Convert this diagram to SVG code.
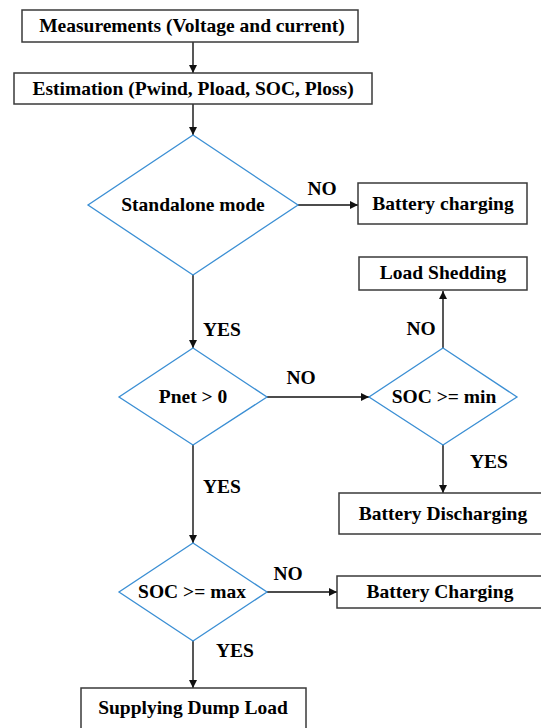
<svg xmlns="http://www.w3.org/2000/svg" width="541" height="728" viewBox="0 0 541 728">
<defs>
<style>
.box{fill:#fff;stroke:#3a3a3a;stroke-width:1.5}
.dia{fill:#fff;stroke:#3b8fd4;stroke-width:1.3}
.t{font-family:"Liberation Serif","Times New Roman",Times,serif;font-weight:bold;font-size:19.5px;fill:#000;text-anchor:middle}
.c{stroke:#111;stroke-width:1.4;fill:none;marker-end:url(#ah)}
</style>
<marker id="ah" viewBox="0 0 10 10" refX="10" refY="5" markerWidth="8" markerHeight="8" markerUnits="userSpaceOnUse" orient="auto">
<path d="M0,0 L10,5 L0,10 z" fill="#111"/>
</marker>
</defs>
<rect width="541" height="728" fill="#fff"/>
<g id="connectors">
<line class="c" x1="193" y1="42" x2="193" y2="73"/>
<line class="c" x1="193" y1="104" x2="193" y2="135"/>
<line class="c" x1="298" y1="205" x2="358" y2="205"/>
<line class="c" x1="193" y1="275" x2="193" y2="348"/>
<line class="c" x1="267" y1="397" x2="369" y2="397"/>
<line class="c" x1="443" y1="348" x2="443" y2="291"/>
<line class="c" x1="443" y1="445" x2="443" y2="493"/>
<line class="c" x1="193" y1="445" x2="193" y2="543"/>
<line class="c" x1="267" y1="592" x2="337" y2="592"/>
<line class="c" x1="193" y1="641" x2="193" y2="688"/>
<text class="t" x="322" y="195">NO</text>
<text class="t" x="222" y="336">YES</text>
<text class="t" x="301" y="384">NO</text>
<text class="t" x="421" y="335">NO</text>
<text class="t" x="489" y="468">YES</text>
<text class="t" x="222" y="493">YES</text>
<text class="t" x="288" y="580">NO</text>
<text class="t" x="235" y="657">YES</text>
</g>
<g id="measurements">
<rect class="box" x="22" y="10" width="336" height="32"/>
<text class="t" x="192" y="32">Measurements (Voltage and current)</text>
</g>
<g id="estimation">
<rect class="box" x="14" y="73" width="358" height="31"/>
<text class="t" x="193" y="95">Estimation (Pwind, Pload, SOC, Ploss)</text>
</g>
<g id="standalone">
<polygon class="dia" points="193,135 298,205 193,275 88,205"/>
<text class="t" x="193" y="211">Standalone mode</text>
</g>
<g id="battery-charging-1">
<rect class="box" x="358" y="183" width="169" height="41"/>
<text class="t" x="443" y="210">Battery charging</text>
</g>
<g id="load-shedding">
<rect class="box" x="359" y="257" width="168" height="33"/>
<text class="t" x="443" y="279">Load Shedding</text>
</g>
<g id="pnet">
<polygon class="dia" points="193,348 267,397 193,445 119,397"/>
<text class="t" x="193" y="403">Pnet &gt; 0</text>
</g>
<g id="soc-min">
<polygon class="dia" points="443,348 517,397 443,445 369,397"/>
<text class="t" x="444" y="403">SOC &gt;= min</text>
</g>
<g id="battery-discharging">
<rect class="box" x="339" y="493" width="210" height="41"/>
<text class="t" x="443" y="520">Battery Discharging</text>
</g>
<g id="soc-max">
<polygon class="dia" points="193,543 267,592 193,641 119,592"/>
<text class="t" x="192" y="598">SOC &gt;= max</text>
</g>
<g id="battery-charging-2">
<rect class="box" x="337" y="576" width="212" height="32"/>
<text class="t" x="440" y="598">Battery Charging</text>
</g>
<g id="dump-load">
<rect class="box" x="81" y="688" width="225" height="50"/>
<text class="t" x="193" y="714">Supplying Dump Load</text>
</g>
</svg>
